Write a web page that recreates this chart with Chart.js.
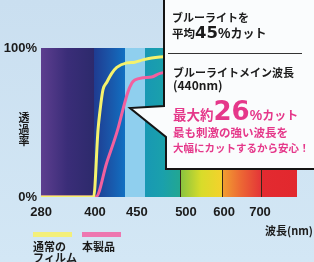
<!DOCTYPE html>
<html>
<head>
<meta charset="utf-8">
<script src="https://cdn.jsdelivr.net/npm/chart.js@4/dist/chart.umd.min.js"></script>
<style>
html, body { margin: 0; padding: 0; }
body { width: 314px; height: 262px; overflow: hidden; background: linear-gradient(#cadff0, #d3e7f5); }
canvas { display: block; }
</style>
</head>
<body>
<canvas id="chart" width="314" height="262"></canvas>
<script>
// transmittance curves: wavelength (nm) -> transmittance (%)
const normalNm  = [280, 397, 403.6, 406, 409.5, 414, 420, 426, 438, 447.6, 456, 465, 473.5, 500, 600, 700, 800];
const normalPct = [0,   0,   45,    58,  72,    77,  83,  87,  90,  90.5,  92,  93.3, 94,   95,  96,  97,  97];
const productNm  = [280, 401, 414, 427, 433, 439, 444,  447.5, 456, 465,  473.5, 500, 600, 700, 800];
const productPct = [0,   0,   23,  45,  58,  70,  76.5, 78.5,  80,  80.5, 83,    85,  87,  88,  88];
const seriesLabels = [['通常の', 'フィルム'], ['本製品']];

const xTicks = [280, 400, 450, 500, 600, 700];
const yTicks = [0, 100];

// the wavelength axis is not linear in the original: share of axis width for each wavelength
const axisNm = [280, 400, 450, 500, 600, 700, 800];
const axisAt = [0.004, 0.214, 0.377, 0.568, 0.716, 0.856, 1];

// spectrum bands behind the curves
const bandNm = [280, 397, 436, 458, 494, 595, 702, 800];
const bandColors = [
  ['#5d3e8f', '#3a2d78', '#2d2a6c'],
  ['#1f3b90', '#1a55a8', '#1170c2'],
  ['#8fcfee', '#8fcfee'],
  ['#1898b4', '#1aa0ac', '#22a792'],
  ['#86c340', '#d8dc2a', '#f4d22c'],
  ['#f2a030', '#ec6634', '#e43638'],
  ['#e32a30', '#e2282e']
];

function nmToFrac(v) {
  if (v <= axisNm[0]) return axisAt[0];
  for (let i = 1; i < axisNm.length; i++) {
    if (v <= axisNm[i]) {
      const t = (v - axisNm[i - 1]) / (axisNm[i] - axisNm[i - 1]);
      return axisAt[i - 1] + t * (axisAt[i] - axisAt[i - 1]);
    }
  }
  return axisAt[axisAt.length - 1];
}

function fracToNm(f) {
  for (let i = 1; i < axisAt.length; i++) {
    if (f <= axisAt[i]) {
      const t = (f - axisAt[i - 1]) / (axisAt[i] - axisAt[i - 1]);
      return axisNm[i - 1] + t * (axisNm[i] - axisNm[i - 1]);
    }
  }
  return axisNm[axisNm.length - 1];
}

class SpectrumScale extends Chart.LinearScale {
  getPixelForValue(v) {
    return this.left + nmToFrac(v) * this.width;
  }
  getValueForPixel(p) {
    return fracToNm((p - this.left) / this.width);
  }
}
SpectrumScale.id = 'spectrum';
SpectrumScale.defaults = Chart.LinearScale.defaults;
Chart.register(SpectrumScale);

const JP = "'Noto Sans CJK JP'";
const BLACK = '#1b1b1b';
const PINK = '#e5388a';

function runs(ctx, x, y, parts) {
  ctx.textAlign = 'left';
  ctx.textBaseline = 'alphabetic';
  parts.forEach(p => {
    ctx.font = p[1];
    ctx.fillStyle = p[2];
    ctx.fillText(p[0], x, y);
    x += ctx.measureText(p[0]).width;
  });
}

const spectrumPlugin = {
  id: 'spectrum',
  beforeDatasetsDraw(chart) {
    const { ctx, chartArea: a, scales: { x } } = chart;
    ctx.save();
    for (let i = 0; i < bandNm.length - 1; i++) {
      const x0 = x.getPixelForValue(bandNm[i]);
      const x1 = x.getPixelForValue(bandNm[i + 1]);
      const g = ctx.createLinearGradient(x0, 0, x1, 0);
      const cs = bandColors[i];
      cs.forEach((c, k) => g.addColorStop(k / (cs.length - 1), c));
      ctx.fillStyle = g;
      ctx.fillRect(Math.round(x0), a.top, Math.round(x1) - Math.round(x0), a.bottom - a.top);
    }
    ctx.strokeStyle = '#3a2618';
    ctx.lineWidth = 1;
    [494, 595, 702].forEach(v => {
      const px = Math.round(x.getPixelForValue(v)) + 0.5;
      ctx.beginPath();
      ctx.moveTo(px, a.top);
      ctx.lineTo(px, a.bottom);
      ctx.stroke();
    });
    ctx.restore();
  }
};

const calloutPlugin = {
  id: 'callout',
  afterDraw(chart) {
    const { ctx } = chart;
    ctx.save();

    // y title, stacked characters
    ctx.font = 'bold 11px ' + JP;
    ctx.fillStyle = BLACK;
    ctx.textAlign = 'center';
    ctx.textBaseline = 'middle';
    ['透', '過', '率'].forEach((ch, i) => ctx.fillText(ch, 24, 118 + i * 11.5));

    // x title
    ctx.textAlign = 'right';
    ctx.font = 'bold 11px ' + JP;
    ctx.fillText('波長(nm)', 313, 231);

    // legend
    chart.data.datasets.forEach((ds, i) => {
      const lx = 33 + i * 49;
      ctx.fillStyle = ds.legendColor;
      ctx.fillRect(lx, 232, 39, 5);
      ctx.fillStyle = BLACK;
      ctx.font = 'bold 11px ' + JP;
      ctx.textAlign = 'left';
      ctx.textBaseline = 'middle';
      seriesLabels[i].forEach((t, k) => ctx.fillText(t, lx, 247 + k * 11));
    });

    // speech bubble box
    ctx.beginPath();
    ctx.moveTo(164, -3);
    ctx.lineTo(164, 106);
    ctx.lineTo(130, 108);
    ctx.lineTo(166, 137);
    ctx.lineTo(166, 169);
    ctx.lineTo(320, 169);
    ctx.lineTo(320, -3);
    ctx.closePath();
    ctx.fillStyle = '#fafcfd';
    ctx.fill();
    ctx.lineWidth = 2;
    ctx.strokeStyle = '#141414';
    ctx.stroke();

    ctx.beginPath();
    ctx.moveTo(168, 53.5);
    ctx.lineTo(302, 53.5);
    ctx.lineWidth = 1;
    ctx.strokeStyle = '#333';
    ctx.stroke();

    runs(ctx, 172, 22, [['ブルーライトを', 'bold 11px ' + JP, BLACK]]);
    runs(ctx, 172, 38, [
      ['平均', 'bold 11.5px ' + JP, BLACK],
      ['45', "bold 16.5px 'DejaVu Sans'", BLACK],
      ['%', "bold 14px 'Liberation Sans'", BLACK],
      ['カット', 'bold 12px ' + JP, BLACK]
    ]);
    runs(ctx, 173, 77, [['ブルーライトメイン波長', 'bold 11px ' + JP, BLACK]]);
    runs(ctx, 173, 90, [['(440nm)', 'bold 12px ' + JP, BLACK]]);
    runs(ctx, 173, 120, [
      ['最大約', 'bold 13.5px ' + JP, PINK],
      ['26', "bold 26px 'DejaVu Sans'", PINK],
      ['%', "bold 14px 'Liberation Sans'", PINK],
      ['カット', 'bold 12px ' + JP, PINK]
    ]);
    runs(ctx, 173, 137, [['最も刺激の強い波長を', 'bold 11.5px ' + JP, PINK]]);
    runs(ctx, 173, 152, [['大幅にカットするから安心！', 'bold 10.5px ' + JP, PINK]]);

    ctx.restore();
  }
};

new Chart(document.getElementById('chart'), {
  type: 'line',
  data: {
    datasets: [
      {
        label: seriesLabels[0].join(''),
        data: normalNm.map((v, i) => ({ x: v, y: normalPct[i] })),
        borderColor: '#f5f26c',
        legendColor: '#f3ef7a',
        borderWidth: 3,
        pointRadius: 0,
        cubicInterpolationMode: 'monotone'
      },
      {
        label: seriesLabels[1].join(''),
        data: productNm.map((v, i) => ({ x: v, y: productPct[i] })),
        borderColor: '#f2609f',
        legendColor: '#ee77b0',
        borderWidth: 3,
        pointRadius: 0,
        cubicInterpolationMode: 'monotone'
      }
    ]
  },
  options: {
    responsive: false,
    animation: false,
    devicePixelRatio: 1,
    layout: { padding: { top: 48, right: 17, left: 0, bottom: 0 } },
    plugins: { legend: { display: false }, tooltip: { enabled: false } },
    scales: {
      x: {
        type: 'spectrum',
        min: 280,
        max: 800,
        grid: { display: false, drawTicks: false },
        border: { display: false },
        afterBuildTicks: s => { s.ticks = xTicks.map(v => ({ value: v })); },
        afterFit: s => { s.height = 65; },
        ticks: {
          padding: 8,
          color: BLACK,
          font: { family: 'Liberation Sans', size: 13, weight: 'bold' },
          maxRotation: 0,
          autoSkip: false,
          callback: v => String(v)
        }
      },
      y: {
        min: 0,
        max: 100,
        grid: { display: false, drawTicks: false },
        border: { display: false },
        afterBuildTicks: s => { s.ticks = yTicks.map(v => ({ value: v })); },
        afterFit: s => { s.width = 40; },
        ticks: {
          padding: 3,
          color: BLACK,
          font: { family: 'Liberation Sans', size: 13, weight: 'bold' },
          callback: v => v + '%'
        }
      }
    }
  },
  plugins: [spectrumPlugin, calloutPlugin]
});
</script>
</body>
</html>
